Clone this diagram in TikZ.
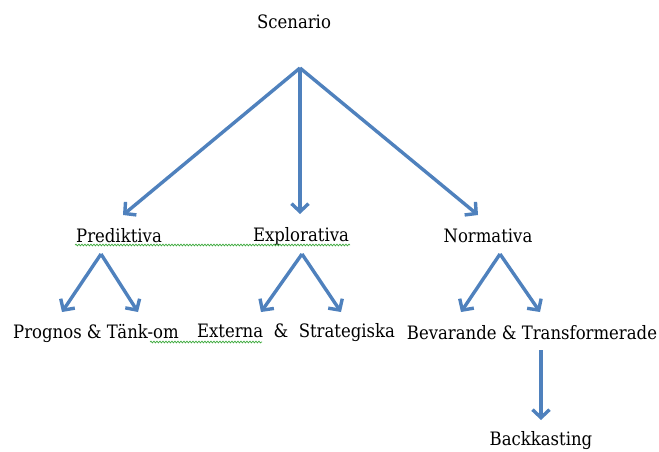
\documentclass[tikz,border=0pt]{standalone}
\usepackage{fontspec}
\setmainfont{DejaVu Serif}
\usetikzlibrary{arrows.meta,decorations.pathmorphing}
\definecolor{arr}{HTML}{4F81BD}
\definecolor{squig}{HTML}{3DAA3D}
\newcommand{\tallt}[1]{\scalebox{1}[1.12]{#1}}
\begin{document}
\begin{tikzpicture}[x=1pt,y=-1pt,
  lbl/.style={inner sep=0pt,font=\fontsize{16.5}{19}\selectfont},
  arrline/.style={draw=arr,line width=3.4pt,-{Straight Barb[length=8pt,width=17pt,line width=3.4pt]}},
  wavy/.style={draw=squig,line width=0.7pt,decorate,decoration={snake,amplitude=0.9pt,segment length=3pt}}]
\useasboundingbox (0,0) rectangle (659,452);
\node[lbl] (scen) at (294,22) {\tallt{Scenario}};
\coordinate (a0) at (300,68);
\coordinate (t1) at (123,215);
\coordinate (t2) at (300,214);
\coordinate (t3) at (478,215);
\draw[arrline] (a0) -- (t1);
\draw[arrline] (a0) -- (t2);
\draw[arrline] (a0) -- (t3);
\node[lbl] (pred) at (119,236) {\tallt{Prediktiva}};
\node[lbl] (expl) at (301,236) {\tallt{Explorativa}};
\node[lbl] (norm) at (488,236) {\tallt{Normativa}};
\coordinate (p0) at (101,254);
\coordinate (p1) at (62,312);
\coordinate (p2) at (138,312);
\coordinate (e0) at (302,254);
\coordinate (e1) at (261,312);
\coordinate (e2) at (341,312);
\coordinate (n0) at (500,254);
\coordinate (n1) at (461,312);
\coordinate (n2) at (540,312);
\draw[arrline] (p0) -- (p1);
\draw[arrline] (p0) -- (p2);
\draw[arrline] (e0) -- (e1);
\draw[arrline] (e0) -- (e2);
\draw[arrline] (n0) -- (n1);
\draw[arrline] (n0) -- (n2);
\node[lbl] (prog) at (96,333) {\tallt{Prognos \& Tänk-om}};
\node[lbl] (ext) at (296,333) {\tallt{Externa\ \ \&\ \ Strategiska}};
\node[lbl] (bev) at (532,333) {\tallt{Bevarande \& Transformerade}};
\coordinate (b0) at (541,350);
\coordinate (b1) at (541,420);
\draw[arrline] (b0) -- (b1);
\node[lbl] (back) at (541,441) {\tallt{Backkasting}};
\coordinate (w1) at (75,245);
\coordinate (w2) at (350,245);
\coordinate (w3) at (150,342);
\coordinate (w4) at (262,342);
\draw[wavy] (w1) -- (w2);
\draw[wavy] (w3) -- (w4);
\end{tikzpicture}
\end{document}
